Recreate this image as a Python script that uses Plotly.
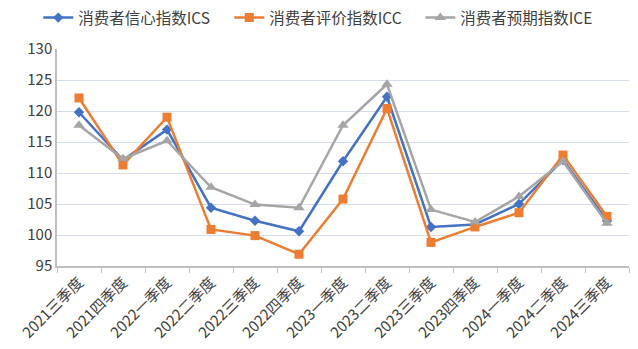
import plotly.graph_objects as go

quarters = ["2021三季度", "2021四季度", "2022一季度", "2022二季度", "2022三季度",
            "2022四季度", "2023一季度", "2023二季度", "2023三季度", "2023四季度",
            "2024一季度", "2024二季度", "2024三季度"]
ics = [119.8, 112.1, 117.0, 104.4, 102.3, 100.6, 111.9, 122.3, 101.3, 101.7, 105.0, 112.1, 102.3]
icc = [122.1, 111.3, 119.0, 100.9, 99.9, 96.9, 105.8, 120.4, 98.8, 101.3, 103.6, 112.9, 103.0]
ice = [117.7, 112.3, 115.2, 107.7, 104.9, 104.4, 117.7, 124.3, 104.1, 102.1, 106.2, 111.9, 101.9]

series = [
    ("消费者信心指数ICS", ics, "#4472C4", "diamond", 8),
    ("消费者评价指数ICC", icc, "#ED7D31", "square", 9),
    ("消费者预期指数ICE", ice, "#A5A5A5", "triangle-up", 10),
]

fig = go.Figure()
for name, vals, color, symbol, size in series:
    fig.add_trace(go.Scatter(
        x=quarters, y=vals, name=name, mode="lines+markers",
        line=dict(color=color, width=2.5),
        marker=dict(symbol=symbol, size=size, color=color),
    ))

font_family = "Noto Sans CJK SC, Liberation Sans, sans-serif"
fig.update_layout(
    width=638, height=349,
    margin=dict(l=57, r=9, t=49, b=83, autoexpand=False),
    paper_bgcolor="white", plot_bgcolor="white",
    font=dict(family=font_family, size=13, color="#404040"),
    showlegend=True,
    legend=dict(orientation="h", xref="container", yref="container",
                x=0.06, y=0.997, xanchor="left", yanchor="top",
                font=dict(size=15.5, color="#404040"), itemwidth=30,
                entrywidth=146, traceorder="normal"),
)
fig.update_xaxes(
    type="category", range=[-0.5, len(quarters) - 0.5],
    tickangle=-45, tickson="boundaries",
    ticks="outside", ticklen=5, tickcolor="#BFBFBF",
    showline=True, linecolor="#BFBFBF", linewidth=1.5,
    showgrid=False, tickfont=dict(size=15, color="#404040"),
)
fig.update_yaxes(
    range=[95, 130], dtick=5, tick0=95,
    showline=True, linecolor="#BFBFBF", linewidth=1.5,
    gridcolor="#D6DCF0", gridwidth=1, zeroline=False,
    tickfont=dict(size=15, color="#404040"),
)

fig.write_html("out.html")
